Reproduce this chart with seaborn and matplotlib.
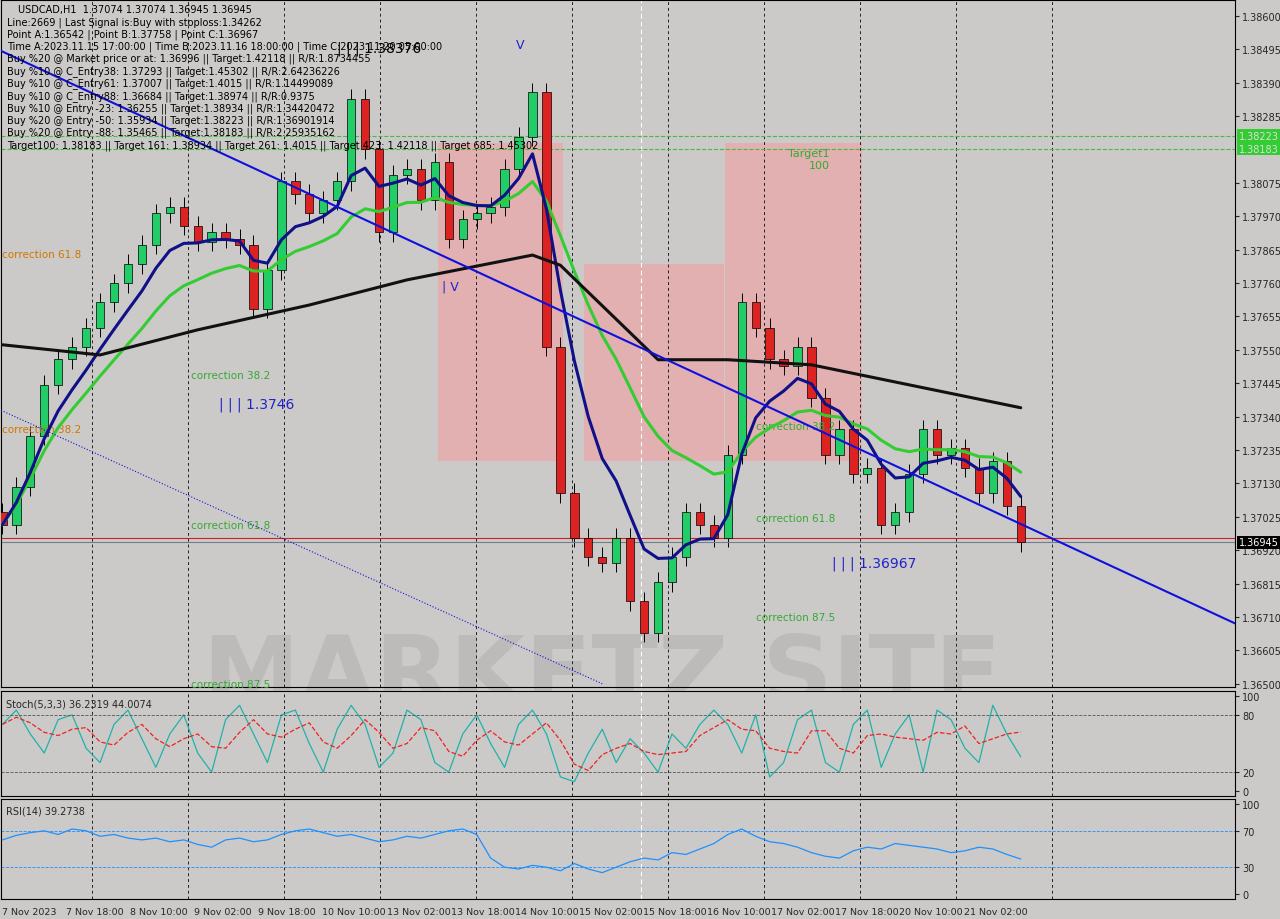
import numpy as np
import pandas as pd
import matplotlib
matplotlib.use("Agg")
import matplotlib.pyplot as plt
import seaborn as sns
from matplotlib.patches import Rectangle

sns.set_style("white")
plt.rcParams['font.family'] = ['DejaVu Sans']

# closes, one per 3 hours
closes = [1.3700, 1.3712, 1.3728, 1.3744, 1.3752, 1.3756, 1.3762, 1.3770, 1.3776, 1.3782,
          1.3788, 1.3798, 1.3800, 1.3794, 1.3789, 1.3792, 1.3790, 1.3788, 1.3768, 1.3780,
          1.3808, 1.3804, 1.3798, 1.3802, 1.3808, 1.3834, 1.3818, 1.3792, 1.3810, 1.3812,
          1.3802, 1.3814, 1.3790, 1.3796, 1.3798, 1.3800, 1.3812, 1.3822, 1.3836, 1.3756,
          1.3710, 1.3696, 1.3690, 1.3688, 1.3696, 1.3676, 1.3666, 1.3682, 1.3690, 1.3704,
          1.3700, 1.3696, 1.3722, 1.3770, 1.3762, 1.3752, 1.3750, 1.3756, 1.3740, 1.3722,
          1.3730, 1.3716, 1.3718, 1.3700, 1.3704, 1.3716, 1.3730, 1.3722, 1.3724, 1.3718,
          1.3710, 1.3720, 1.3706, 1.36945]
ma_black_x = [0, 7, 14, 22, 29, 38, 40, 47, 52, 58, 65, 73]
ma_black = [1.37566, 1.37534, 1.37613, 1.37691, 1.37770, 1.37848, 1.37816, 1.37519,
            1.37519, 1.37503, 1.37440, 1.37368]
stoch = [70, 85, 60, 40, 75, 80, 45, 30, 70, 85, 55, 25, 60, 80, 40, 20, 75, 90, 60, 30,
         80, 85, 50, 20, 65, 90, 70, 25, 40, 85, 75, 30, 20, 60, 80, 50, 25, 70, 85, 60,
         15, 10, 40, 65, 30, 55, 40, 20, 60, 45, 70, 85, 70, 40, 80, 15, 30, 75, 85, 30,
         20, 70, 85, 25, 60, 80, 20, 85, 75, 45, 30, 90, 60, 36]
rsi = [60, 65, 68, 70, 66, 72, 70, 64, 66, 62, 60, 62, 58, 60, 55, 52, 60, 62, 58, 60,
       66, 70, 72, 68, 64, 66, 62, 58, 60, 64, 62, 66, 70, 72, 66, 40, 30, 28, 32, 30,
       26, 34, 28, 24, 30, 36, 40, 38, 46, 44, 50, 56, 66, 72, 64, 58, 56, 52, 46, 42,
       40, 48, 52, 50, 56, 54, 52, 50, 46, 48, 52, 50, 44, 39]
date_labels = ["7 Nov 2023", "7 Nov 18:00", "8 Nov 10:00", "9 Nov 02:00", "9 Nov 18:00",
               "10 Nov 10:00", "13 Nov 02:00", "13 Nov 18:00", "14 Nov 10:00", "15 Nov 02:00",
               "15 Nov 18:00", "16 Nov 10:00", "17 Nov 02:00", "17 Nov 18:00", "20 Nov 10:00",
               "21 Nov 02:00"]

bg = "#cccac8"
fig = plt.figure(figsize=(12.8, 9.2), dpi=100, facecolor=bg)
W, H = 1280, 920
def ax_px(l, t, r, b):
    return fig.add_axes([l / W, 1 - b / H, (r - l) / W, (b - t) / H])

ax = ax_px(1, 1, 1235, 688)
ax2 = ax_px(1, 692, 1235, 797)
ax3 = ax_px(1, 800, 1235, 900)

n = len(closes)
x = np.arange(n)
df = pd.DataFrame({"x": x, "close": closes})
df["open"] = df["close"].shift(1).fillna(1.3704)
df["high"] = df[["open", "close"]].max(axis=1) + 0.0003
df["low"] = df[["open", "close"]].min(axis=1) - 0.0003
df["fast"] = df["close"].ewm(span=6).mean()
df["slow"] = df["close"].ewm(span=16).mean()

px = 13.95  # pixels per bar
x0 = -0.1
xmax = x0 + 1234 / px
for a in (ax, ax2, ax3):
    a.set_facecolor(bg)
    a.set_xlim(x0, xmax)
    a.yaxis.tick_right()
    a.tick_params(axis="y", labelsize=7, length=3, pad=2)
    for s in a.spines.values():
        s.set_color("black")
        s.set_linewidth(0.8)
    a.set_xticks([])

# pink "M" watermark shapes
for (rx, ry, w, h) in [(31.2, 1.3720, 9, 0.0100), (41.7, 1.3720, 10, 0.0062), (51.8, 1.3720, 9.8, 0.0100)]:
    ax.add_patch(Rectangle((rx, ry), w, h, color="#f2a0a0", alpha=0.6, lw=0, zorder=0))
ax.text(43, 1.3652, "MARKETZ SITE", fontsize=70, fontweight="bold", color="#b8b6b4",
        ha="center", va="center", zorder=0, alpha=0.7)

# candles
for _, r in df.iterrows():
    up = r["close"] >= r["open"]
    col = "#22cc66" if up else "#dd2222"
    ax.vlines(r["x"], r["low"], r["high"], color="black", lw=0.7, zorder=2)
    ax.add_patch(Rectangle((r["x"] - 0.3, min(r["open"], r["close"])), 0.6,
                           max(abs(r["close"] - r["open"]), 0.00003),
                           facecolor=col, edgecolor="black", lw=0.5, zorder=3))

sns.lineplot(data=df, x="x", y="slow", ax=ax, color="#33cc33", lw=2.2, zorder=4)
sns.lineplot(data=df, x="x", y="fast", ax=ax, color="#101088", lw=2.2, zorder=4)
sns.lineplot(x=ma_black_x, y=ma_black, ax=ax, color="#111111", lw=2.2, zorder=4)

ax.plot([x0, xmax], [1.38490, 1.36690], color="#1010dd", lw=1.5, zorder=4)
ax.plot([x0, 43], [1.37360, 1.36500], color="#1010dd", lw=0.8, ls=":", zorder=4)
for lvl in (1.38223, 1.38183):
    ax.axhline(lvl, color="#44bb44", lw=0.8, ls="--")
ax.axhline(1.36958, color="#cc2222", lw=0.8)
ax.axhline(1.36945, color="#708090", lw=0.8)

ax.set_ylim(1.36490, 1.38650)
ticks = [1.38600, 1.38495, 1.38390, 1.38285, 1.38075, 1.37970, 1.37865, 1.37760, 1.37655,
         1.37550, 1.37445, 1.37340, 1.37235, 1.37130, 1.37025, 1.36920, 1.36815, 1.36710,
         1.36605, 1.36500]
ax.set_yticks(ticks)
ax.set_yticklabels([f"{t:.5f}" for t in ticks])
ax.set_xlabel(""); ax.set_ylabel("")
trans = ax.get_yaxis_transform()
for lvl in (1.38223, 1.38183):
    ax.text(1.003, lvl, f"{lvl:.5f}", transform=trans, fontsize=7, color="#dddddd", va="center",
            bbox=dict(facecolor="#33cc33", edgecolor="none", pad=1), clip_on=False)
ax.text(1.003, 1.36945, "1.36945", transform=trans, fontsize=7, color="white", va="center",
        bbox=dict(facecolor="black", edgecolor="none", pad=1), clip_on=False)

info = ["USDCAD,H1  1.37074 1.37074 1.36945 1.36945",
        "Line:2669 | Last Signal is:Buy with stoploss:1.34262",
        "Point A:1.36542 | Point B:1.37758 | Point C:1.36967",
        "Time A:2023.11.15 17:00:00 | Time B:2023.11.16 18:00:00 | Time C:2023.11.20 05:00:00",
        "Buy %20 @ Market price or at: 1.36996 || Target:1.42118 || R/R:1.8734455",
        "Buy %10 @ C_Entry38: 1.37293 || Target:1.45302 || R/R:2.64236226",
        "Buy %10 @ C_Entry61: 1.37007 || Target:1.4015 || R/R:1.14499089",
        "Buy %10 @ C_Entry88: 1.36684 || Target:1.38974 || R/R:0.9375",
        "Buy %10 @ Entry -23: 1.36255 || Target:1.38934 || R/R:1.34420472",
        "Buy %20 @ Entry -50: 1.35934 || Target:1.38223 || R/R:1.36901914",
        "Buy %20 @ Entry -88: 1.35465 || Target:1.38183 || R/R:2.25935162",
        "Target100: 1.38183 || Target 161: 1.38934 || Target 261: 1.4015 || Target 423: 1.42118 || Target 685: 1.45302"]
for i, t in enumerate(info):
    fig.text((18 if i == 0 else 7) / W, 1 - (10 + i * 12.3) / H, t, fontsize=7, va="center",
             color="black")

def lab(xv, yv, s, c="#33aa33", fs=7.5):
    ax.text(xv, yv, s, color=c, fontsize=fs, ha="left", va="center")
lab(0, 1.3785, "correction 61.8", "#cc7700")
lab(0, 1.3730, "correction 38.2", "#cc7700")
lab(13.5, 1.3747, "correction 38.2")
lab(15.5, 1.3738, "| | | 1.3746", "#2222cc", 10)
lab(13.5, 1.3700, "correction 61.8")
lab(13.5, 1.3650, "correction 87.5")
lab(54, 1.3731, "correction 38.2")
lab(54, 1.3702, "correction 61.8")
lab(54, 1.3671, "correction 87.5")
lab(59.5, 1.3688, "| | | 1.36967", "#2222cc", 10)
lab(24, 1.3850, "| | | 1.38376", "black", 10)
lab(56.3, 1.3817, "Target1", "#33aa33", 8)
lab(57.8, 1.3813, "100", "#33aa33", 8)
lab(31.5, 1.3775, "| V", "#2222cc", 9)
lab(36.8, 1.3851, "V", "#2222cc", 9)

# stochastic
sdf = pd.DataFrame({"x": x, "k": stoch})
sdf["d"] = sdf["k"].rolling(3, min_periods=1).mean()
sns.lineplot(data=sdf, x="x", y="k", ax=ax2, color="#20b2aa", lw=0.9)
sns.lineplot(data=sdf, x="x", y="d", ax=ax2, color="#ee2222", lw=0.9, ls="--")
for lvl in (80, 20):
    ax2.axhline(lvl, color="#555555", lw=0.6, ls="--")
ax2.set_ylim(-5, 105)
ax2.set_yticks([100, 80, 20, 0])
ax2.set_xlabel(""); ax2.set_ylabel("")
ax2.text(0.004, 0.93, "Stoch(5,3,3) 36.2319 44.0074", transform=ax2.transAxes, fontsize=7, va="top")

rdf = pd.DataFrame({"x": x, "rsi": rsi})
sns.lineplot(data=rdf, x="x", y="rsi", ax=ax3, color="#1e90ff", lw=0.9)
for lvl in (70, 30):
    ax3.axhline(lvl, color="#1e90ff", lw=0.6, ls="--")
ax3.set_ylim(-5, 105)
ax3.set_yticks([100, 70, 30, 0])
ax3.set_xlabel(""); ax3.set_ylabel("")
ax3.text(0.004, 0.93, "RSI(14) 39.2738", transform=ax3.transAxes, fontsize=7, va="top")

# vertical separators and date ticks
sep = [x0 + (91 + k * 96) / px for k in range(11)]
for a in (ax, ax2, ax3):
    for p in sep:
        a.axvline(p, color="#222222", lw=0.7, ls=(0, (3, 3)), zorder=1)
    a.axvline(x0 + 640 / px, color="white", lw=0.8, ls=(0, (4, 3)), zorder=1)
pos = [x0 + (1 + k * 64.1) / px for k in range(len(date_labels))]
ax3.set_xticks(pos)
ax3.set_xticklabels(date_labels, fontsize=6.8, ha="left")
ax3.tick_params(axis="x", length=3, pad=3)

fig.savefig("out.png", dpi=100, facecolor=bg)
